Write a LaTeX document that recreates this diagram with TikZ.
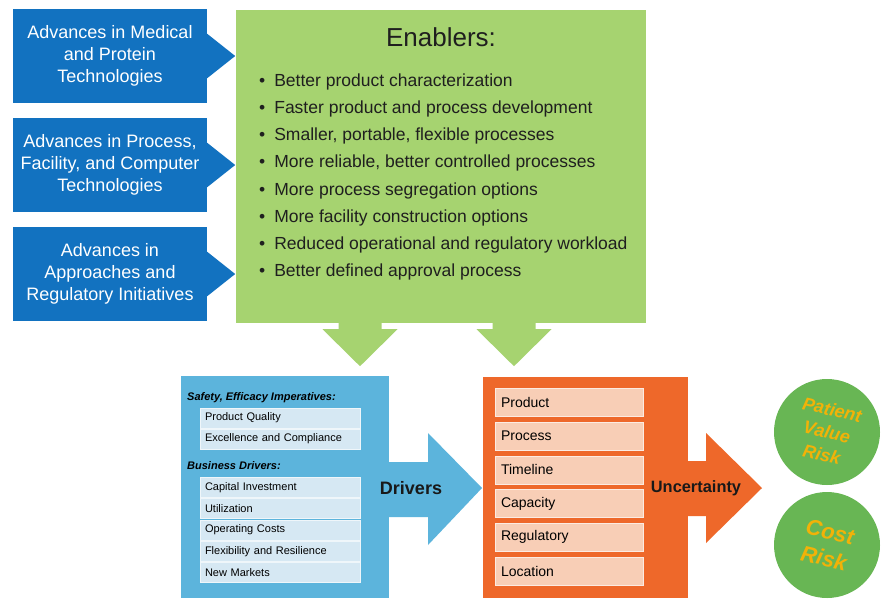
\documentclass[tikz,border=0pt]{standalone}
\usepackage{fontspec}
\setmainfont{Liberation Sans}
\usetikzlibrary{calc}
\usetikzlibrary{positioning}

\definecolor{advblue}{RGB}{18,114,192}
\definecolor{enabgreen}{RGB}{166,211,112}
\definecolor{drvblue}{RGB}{92,180,220}
\definecolor{drvrow}{RGB}{214,232,243}
\definecolor{uncorange}{RGB}{238,104,42}
\definecolor{uncrow}{RGB}{248,206,182}
\definecolor{riskgreen}{RGB}{104,182,84}
\definecolor{riskyellow}{RGB}{242,178,8}

\begin{document}
\begin{tikzpicture}[x=1pt,y=-1pt]
	\tikzstyle{adv}=[fill=advblue, text=white, minimum width=194pt, minimum height=94pt, inner sep=0pt, align=center, font=\fontsize{18}{22}\selectfont]
	\tikzstyle{bul}=[anchor=west, inner sep=0pt, text=black!88, font=\fontsize{17.5}{20}\selectfont]
	\tikzstyle{drow}=[fill=drvrow, draw=white!60!drvrow, minimum width=160pt, minimum height=20pt, inner sep=0pt, text width=150pt, font=\fontsize{11}{13}\selectfont]
	\tikzstyle{dhead}=[anchor=west, inner sep=0pt, font=\fontsize{11}{13}\selectfont\bfseries\itshape]
	\tikzstyle{urow}=[fill=uncrow, draw=white!60!uncrow, minimum width=148pt, minimum height=28pt, inner sep=0pt, text width=136pt, font=\fontsize{14}{16}\selectfont]
	\tikzstyle{risk}=[circle, fill=riskgreen, minimum size=106pt, inner sep=0pt]
	\tikzstyle{risktext}=[text=riskyellow, align=center, rotate=-13, inner sep=0pt, font=\bfseries\itshape]

	\useasboundingbox (0,0) rectangle (891,598);
	\fill[white] (0,0) rectangle (891,598);

	% advances
	\node[adv] (med) at (110,56) {Advances in Medical\\and Protein\\Technologies};
	\node[adv] (proc) at (110,165) {Advances in Process,\\Facility, and Computer\\Technologies};
	\node[adv] (appr) at (110,274) {Advances in\\Approaches and\\Regulatory Initiatives};
	\foreach \b in {med,proc,appr}
		\fill[advblue] ($(\b.east)+(-1,-23)$) -- ($(\b.east)+(28,0)$) -- ($(\b.east)+(-1,23)$) -- cycle;

	% enablers
	\node[fill=enabgreen, minimum width=410pt, minimum height=313pt, inner sep=0pt] (enab) at (441,166.5) {};
	\node[font=\fontsize{26}{28}\selectfont, text=black!88] (title) at (441,37) {Enablers:};
	\foreach \txt [count=\i] in {Better product characterization,
		Faster product and process development,
		{Smaller, portable, flexible processes},
		{More reliable, better controlled processes},
		More process segregation options,
		More facility construction options,
		Reduced operational and regulatory workload,
		Better defined approval process}
		\node[bul] (b\i) at (259,54.9+27.14*\i) {\textbullet\hspace{9pt}\txt};
	\foreach \c in {360,514}
		\fill[enabgreen] ($(enab.south)+(\c-441,-1)$) ++(-21.5,0) -- ++(0,7) -- ++(-16,0)
			-- ++(37.5,37) -- ++(37.5,-37) -- ++(-16,0) -- ++(0,-7) -- cycle;

	% drivers
	\node[fill=drvblue, minimum width=208pt, minimum height=222pt, inner sep=0pt] (drv) at (285,487) {};
	\fill[drvblue] (drv.east |- 0,462) -- (428,462) -- (428,433) -- (482,488) -- (428,545) -- (428,517) -- (drv.east |- 0,517) -- cycle;
	\node[font=\fontsize{18}{20}\selectfont\bfseries, text=black!90] (drvlab) at (411,488) {Drivers};
	\node[dhead] (safe) at (187,398) {Safety, Efficacy Imperatives:};
	\node[drow] (d1) at (280,418) {Product Quality};
	\node[drow] (d2) at (280,439) {Excellence and Compliance};
	\node[dhead] (bus) at (187,466) {Business Drivers:};
	\foreach \txt [count=\i] in {Capital Investment, Utilization, Operating Costs, Flexibility and Resilience, New Markets}
		\node[drow] (r\i) at (280,466+21.3*\i) {\txt};

	% uncertainty
	\node[fill=uncorange, minimum width=205pt, minimum height=221pt, inner sep=0pt] (unc) at (585.5,487.5) {};
	\fill[uncorange] (unc.east |- 0,461) -- (706,461) -- (706,433) -- (762,488) -- (706,543) -- (706,516) -- (unc.east |- 0,516) -- cycle;
	\foreach \txt [count=\i] in {Product, Process, Timeline, Capacity, Regulatory, Location}
		\node[urow] (u\i) at (569,368.3+33.8*\i) {\txt};
	\node[font=\fontsize{16.4}{18}\selectfont\bfseries, text=black!90] (unclab) at (696,488) {Uncertainty};

	% risks
	\node[risk] (pvr) at (827,432) {};
	\node[risktext, font=\fontsize{18}{23}\selectfont\bfseries\itshape] at (pvr) {Patient\\Value\\Risk};
	\node[risk] (cost) at (827,545) {};
	\node[risktext, font=\fontsize{22}{27}\selectfont\bfseries\itshape] at (cost) {Cost\\Risk};
\end{tikzpicture}
\end{document}
